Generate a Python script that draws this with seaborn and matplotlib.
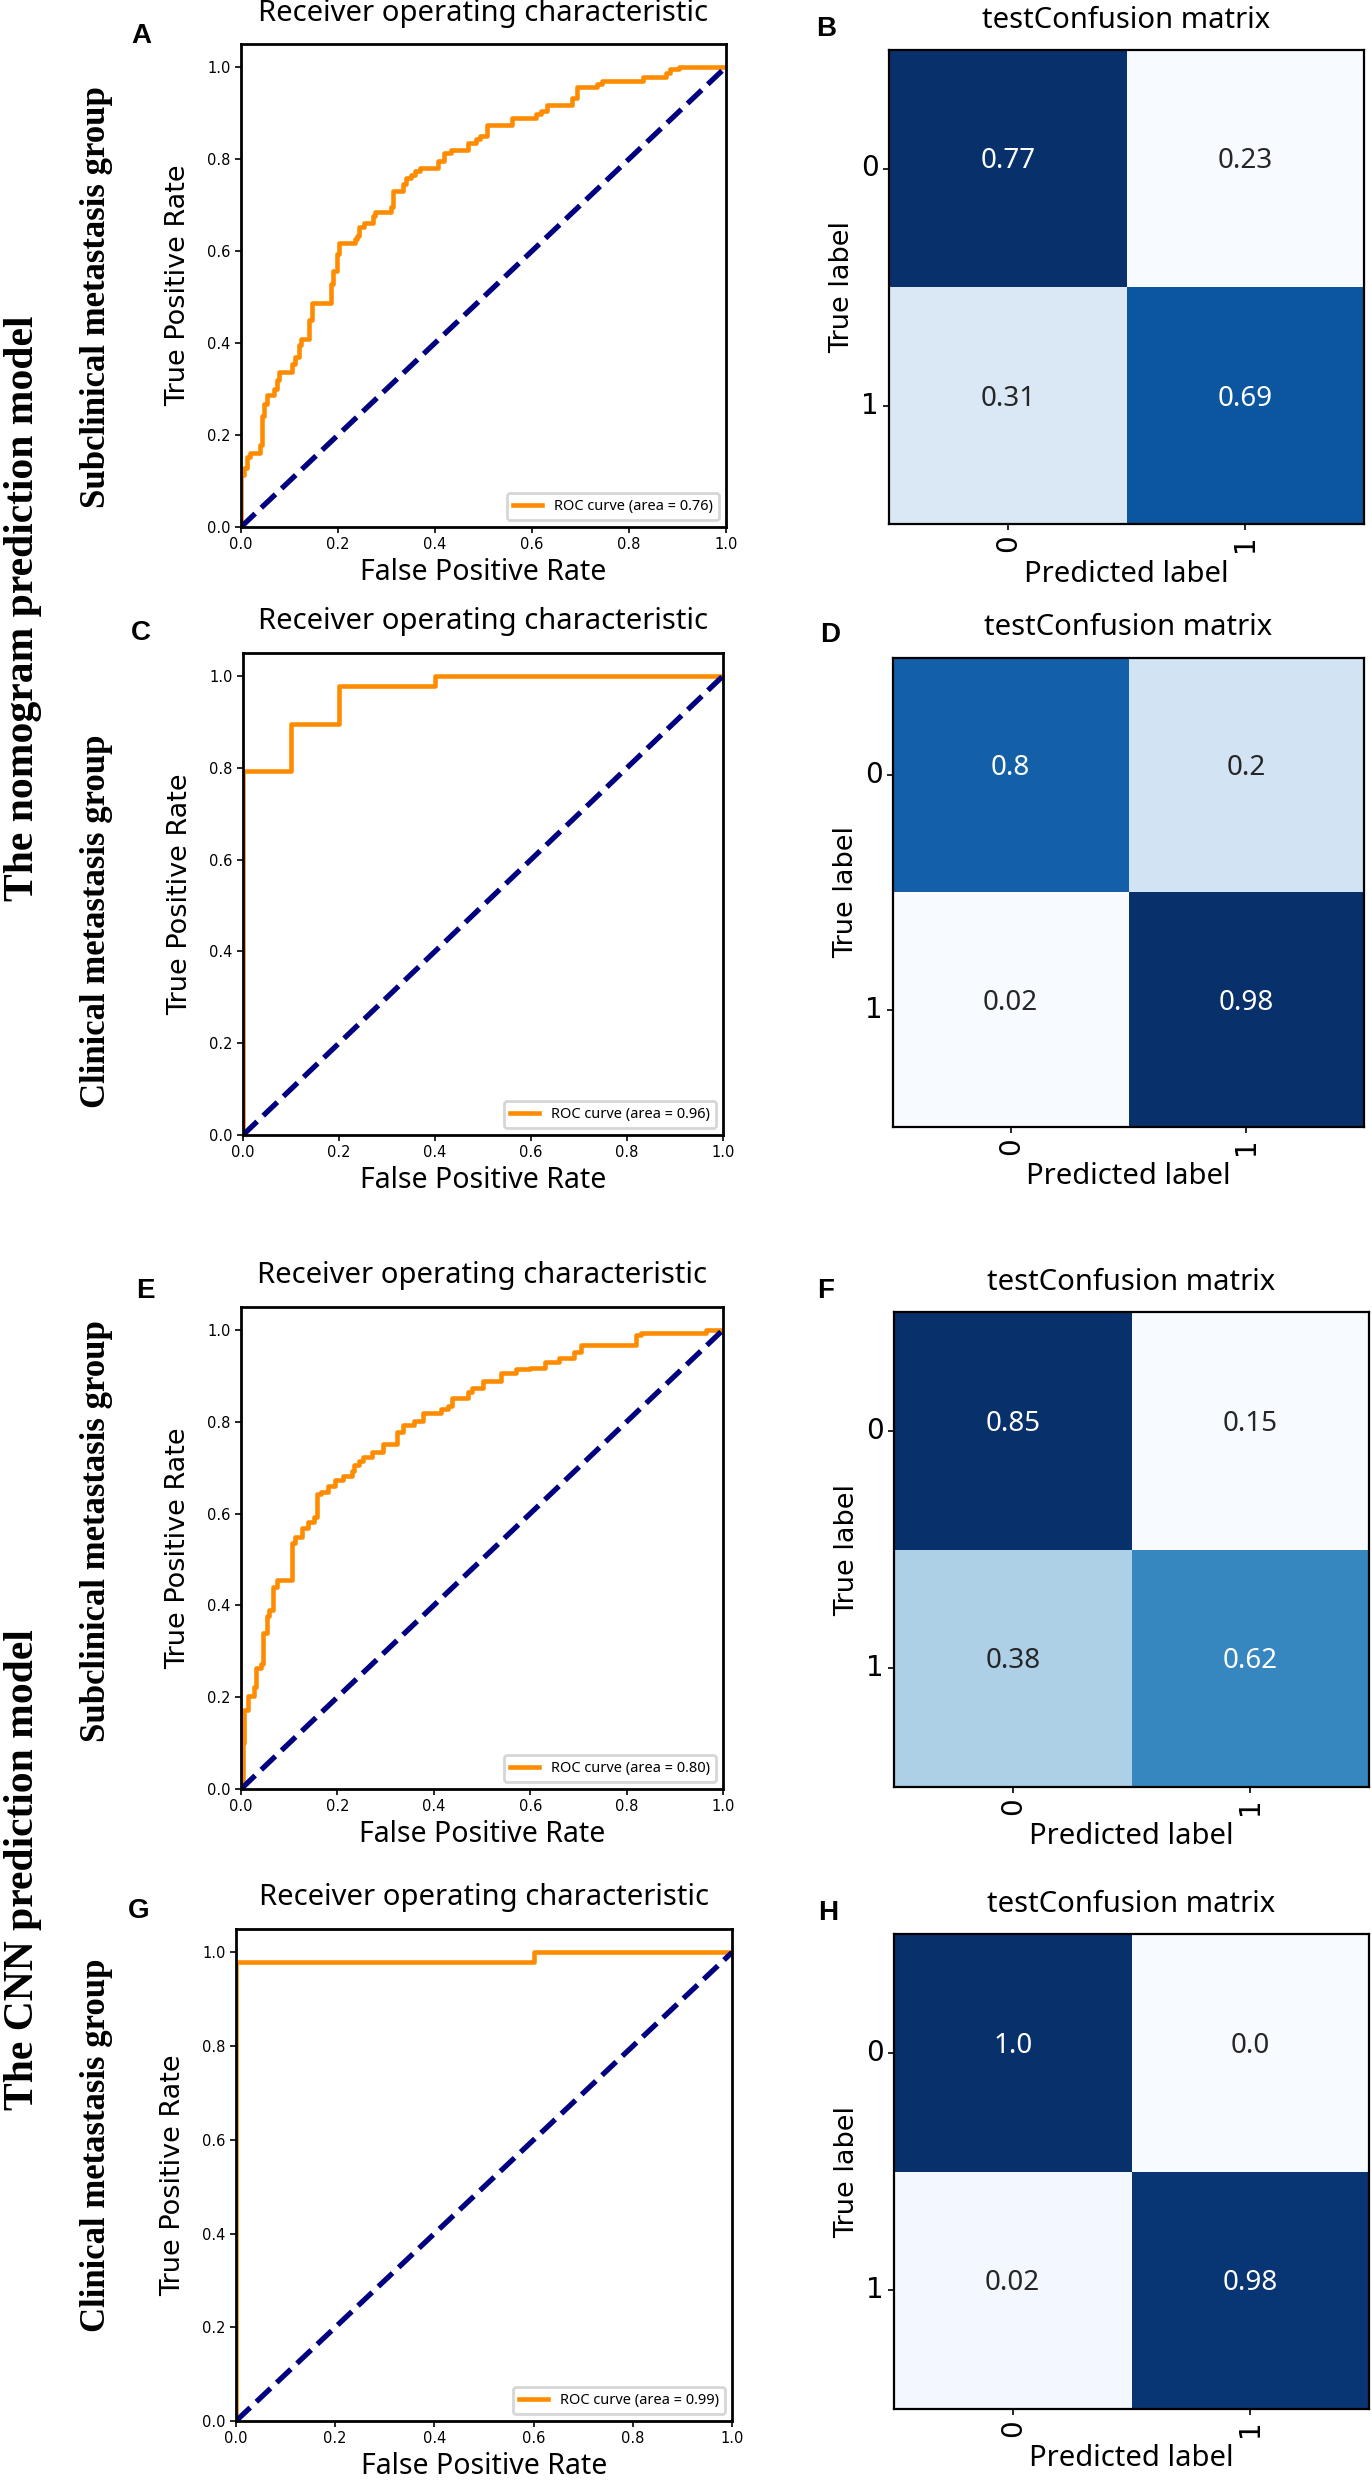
import numpy as np
import matplotlib
matplotlib.use('Agg')
import matplotlib.pyplot as plt
import seaborn as sns

# ROC curves (step points: at fpr[i] the curve rises to tpr[i])
fprA = [0, 0, 0.007, 0.012, 0.018, 0.039, 0.043, 0.048, 0.053, 0.069, 0.074, 0.078, 0.106, 0.111, 0.120, 0.124,
        0.140, 0.146, 0.186, 0.189, 0.198, 0.203, 0.235, 0.240, 0.244, 0.253, 0.272, 0.276, 0.309, 0.313, 0.334,
        0.341, 0.350, 0.359, 0.369, 0.406, 0.419, 0.433, 0.468, 0.484, 0.493, 0.507, 0.558, 0.608, 0.618, 0.631,
        0.682, 0.693, 0.733, 0.745, 0.829, 0.876, 0.885, 0.903, 1.0]
tprA = [0, 0.113, 0.128, 0.152, 0.160, 0.179, 0.241, 0.268, 0.287, 0.300, 0.320, 0.338, 0.354, 0.369, 0.396, 0.408,
        0.451, 0.486, 0.528, 0.556, 0.594, 0.618, 0.626, 0.633, 0.653, 0.660, 0.676, 0.684, 0.695, 0.730, 0.746,
        0.758, 0.765, 0.773, 0.781, 0.796, 0.812, 0.820, 0.835, 0.843, 0.851, 0.874, 0.890, 0.897, 0.905, 0.917,
        0.932, 0.956, 0.963, 0.969, 0.979, 0.987, 0.995, 1.0, 1.0]

fprC = [0, 0, 0.1, 0.2, 0.4, 1.0]
tprC = [0, 0.792, 0.896, 0.979, 1.0, 1.0]

fprE = [0, 0.004, 0.007, 0.014, 0.026, 0.032, 0.041, 0.046, 0.053, 0.058, 0.067, 0.074, 0.106, 0.111, 0.126, 0.138,
        0.152, 0.157, 0.166, 0.180, 0.194, 0.212, 0.230, 0.235, 0.244, 0.253, 0.272, 0.295, 0.323, 0.336, 0.359,
        0.378, 0.415, 0.429, 0.438, 0.470, 0.479, 0.502, 0.539, 0.571, 0.599, 0.631, 0.659, 0.691, 0.705, 0.820,
        0.829, 0.965, 1.0]
tprE = [0, 0.100, 0.172, 0.202, 0.223, 0.264, 0.273, 0.339, 0.377, 0.389, 0.439, 0.456, 0.535, 0.548, 0.568, 0.582,
        0.593, 0.643, 0.648, 0.660, 0.673, 0.681, 0.693, 0.705, 0.715, 0.723, 0.735, 0.752, 0.777, 0.793, 0.802,
        0.818, 0.827, 0.835, 0.852, 0.864, 0.873, 0.889, 0.906, 0.914, 0.918, 0.931, 0.939, 0.952, 0.968, 0.989,
        0.993, 1.0, 1.0]

fprG = [0, 0, 0.6, 1.0]
tprG = [0, 0.979, 1.0, 1.0]

aucs = ['0.76', '0.96', '0.80', '0.99']

# confusion matrices (row normalised)
cmB = [[0.77, 0.23], [0.31, 0.69]]
cmD = [[0.8, 0.2], [0.02, 0.98]]
cmF = [[0.85, 0.15], [0.38, 0.62]]
cmH = [[1.0, 0.0], [0.02, 0.98]]
classes = ['0', '1']

rowLabels = ['Subclinical metastasis group', 'Clinical metastasis group',
             'Subclinical metastasis group', 'Clinical metastasis group']
modelLabels = ['The nomogram prediction model', 'The CNN prediction model']
rocLetters = ['A', 'C', 'E', 'G']
cmLetters = ['B', 'D', 'F', 'H']

W, H = 1372, 2480
fig = plt.figure(figsize=(W / 100, H / 100), dpi=100)

def px_axes(l, t, r, b):
    return fig.add_axes([l / W, 1 - b / H, (r - l) / W, (b - t) / H])

def px_text(x, y, s, **kw):
    fig.text(x / W, 1 - y / H, s, ha='center', va='center', **kw)

rocBoxes = [(241, 44, 726, 527), (243, 653, 723, 1135), (241, 1307, 723, 1789), (236, 1929, 732, 2421)]
cmBoxes = [(889, 50, 1364, 524), (893, 658, 1364, 1127), (894, 1312, 1369, 1787), (894, 1934, 1369, 2409)]
rocLetterPos = [(141, 36), (141, 633), (145, 1291), (139, 1911)]
cmLetterPos = [(826, 29), (830, 635), (826, 1291), (828, 1913)]
rowLabelY = [297, 921, 1531, 2145]
modelLabelY = [608, 1870]

rocs = [(fprA, tprA), (fprC, tprC), (fprE, tprE), (fprG, tprG)]
cms = [cmB, cmD, cmF, cmH]

sansFont = 'Noto Sans'
tickFont = 'DejaVu Sans'

for i in range(4):
    # ---- ROC panel
    l, t, r, b = rocBoxes[i]
    hpx = b - t
    wpx = r - l
    ax = px_axes(l, t, r, b)
    fpr, tpr = rocs[i]
    sns.lineplot(x=fpr, y=tpr, ax=ax, color='darkorange', lw=3.3, drawstyle='steps-post',
                 estimator=None, sort=False, label='ROC curve (area = %s)' % aucs[i])
    sns.lineplot(x=[0, 1], y=[0, 1], ax=ax, color='navy', lw=3.8, linestyle='--', estimator=None)
    ax.set_xlim(0.0, 1.0)
    ax.set_ylim(0.0, 1.05)
    ax.set_xticks(np.arange(0, 1.01, 0.2))
    ax.set_yticks(np.arange(0, 1.01, 0.2))
    ax.tick_params(labelsize=10.5, width=1.2, length=4)
    for lab in ax.get_xticklabels() + ax.get_yticklabels():
        lab.set_family(tickFont)
    for s in ax.spines.values():
        s.set_linewidth(2)
    ax.set_title('Receiver operating characteristic', fontsize=21, family=sansFont,
                 y=1 + 31 / hpx, pad=0, va='center')
    ax.set_xlabel('False Positive Rate', fontsize=20.5, family=sansFont, va='center')
    ax.xaxis.set_label_coords(0.5, -45 / hpx)
    ax.set_ylabel('True Positive Rate', fontsize=19.5, family=tickFont, va='center')
    ax.yaxis.set_label_coords(-63 / wpx, 0.5)
    leg = ax.legend(loc='lower right', prop={'family': sansFont, 'size': 10.5}, handlelength=2,
                    framealpha=0.8, edgecolor='0.8')
    leg.get_frame().set_linewidth(2)
    px_text(rocLetterPos[i][0], rocLetterPos[i][1], rocLetters[i], fontsize=20, weight='bold',
            family='Liberation Sans')
    px_text(97, rowLabelY[i], rowLabels[i], rotation=90, fontsize=25, weight='bold',
            family='Liberation Serif')

    # ---- confusion matrix panel
    l, t, r, b = cmBoxes[i]
    hpx = b - t
    wpx = r - l
    ax = px_axes(l, t, r, b)
    cm = np.array(cms[i])
    annot = np.array([[str(v) for v in row] for row in cms[i]])
    sns.heatmap(cm, annot=annot, fmt='', cmap='Blues', cbar=False, ax=ax,
                xticklabels=classes, yticklabels=classes,
                annot_kws={'fontsize': 20, 'family': sansFont, 'va': 'baseline'})
    for s in ax.spines.values():
        s.set_visible(True)
        s.set_linewidth(1.6)
    ax.tick_params(labelsize=20, width=1.2, length=4)
    plt.setp(ax.get_xticklabels(), rotation=90, family=tickFont)
    plt.setp(ax.get_yticklabels(), rotation=0, family=tickFont)
    ax.set_title('testConfusion matrix', fontsize=21, family=sansFont,
                 y=1 + 30 / hpx, pad=0, va='center')
    ax.set_xlabel('Predicted label', fontsize=21, family=sansFont, va='center')
    ax.xaxis.set_label_coords(0.5, -50 / hpx)
    ax.set_ylabel('True label', fontsize=19.5, family=tickFont, va='center')
    ax.yaxis.set_label_coords(-47 / wpx, 0.5)
    px_text(cmLetterPos[i][0], cmLetterPos[i][1], cmLetters[i], fontsize=20, weight='bold',
            family='Liberation Sans')

for k in range(2):
    px_text(23, modelLabelY[k], modelLabels[k], rotation=90, fontsize=30, weight='bold',
            family='Liberation Serif')

fig.savefig('out.png', dpi=100)
